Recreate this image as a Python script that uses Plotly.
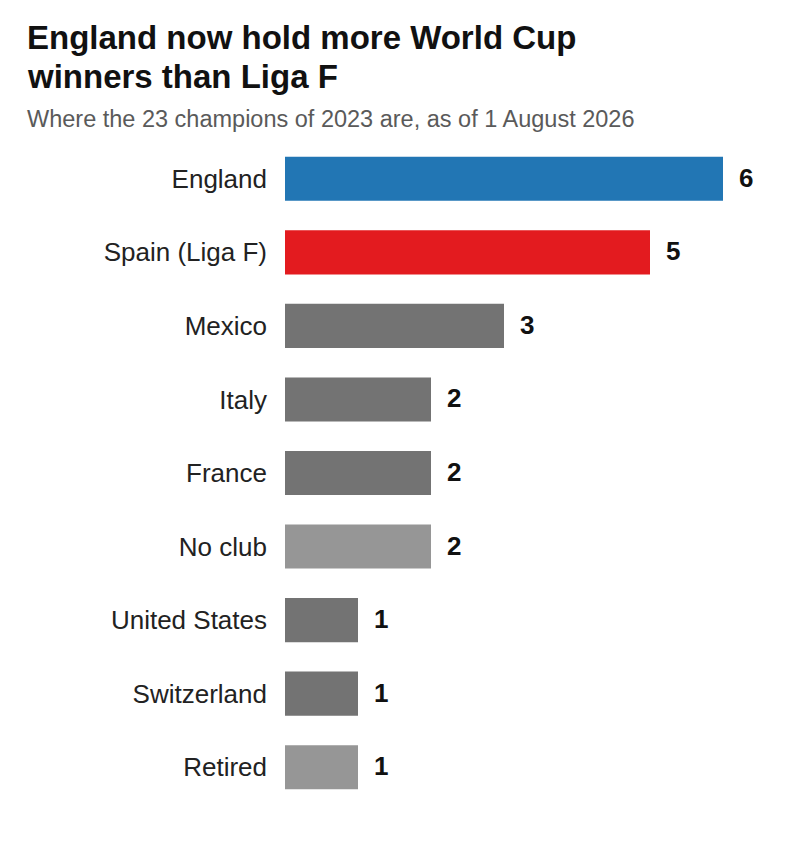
import plotly.graph_objects as go

categories = ["England", "Spain (Liga F)", "Mexico", "Italy", "France", "No club",
              "United States", "Switzerland", "Retired"]
values = [6, 5, 3, 2, 2, 2, 1, 1, 1]
colors = ["#2276b4", "#e31b1f", "#737373", "#737373", "#737373", "#969696",
          "#737373", "#737373", "#969696"]

title_lines = ["England now hold more World Cup", "winners than Liga F"]
subtitle_text = "Where the 23 champions of 2023 are, as of 1 August 2026"

FONT = "Liberation Sans, Arial, sans-serif"

# layout geometry (figure pixels)
L, T, PW, PH = 277, 134, 511, 662
W, H = 800, 841


def px(fx):
    return (fx - L) / PW


def py(fy):
    return (T + PH - fy) / PH


fig = go.Figure()
fig.add_trace(go.Bar(
    x=values, y=categories, orientation="h",
    marker=dict(color=colors, line=dict(width=0)),
    hoverinfo="skip",
))

for c, v in zip(categories, values):
    fig.add_annotation(x=v, y=c, text=f"<b>{v}</b>", showarrow=False,
                       xanchor="left", xshift=14, yshift=1,
                       font=dict(family=FONT, size=26, color="#111111"))

fig.update_layout(
    width=W, height=H,
    margin=dict(l=L, r=W - L - PW, t=T, b=H - T - PH),
    paper_bgcolor="white", plot_bgcolor="white",
    bargap=0.4,
    showlegend=False,
    xaxis=dict(range=[0, 7], visible=False, fixedrange=True),
    yaxis=dict(categoryorder="array", categoryarray=categories[::-1],
               showgrid=False, zeroline=False, showline=False, ticks="",
               ticklabelstandoff=17,
               tickfont=dict(family=FONT, size=26, color="#222222")),
    font=dict(family=FONT),
)

for line, cy in zip(title_lines, [30, 68]):
    fig.add_annotation(xref="paper", yref="paper", x=px(17), y=py(cy),
                       text=f"<b>{line}</b>", showarrow=False,
                       xanchor="left", yanchor="middle",
                       font=dict(family=FONT, size=33, color="#111111"))

fig.add_annotation(xref="paper", yref="paper", x=px(17), y=py(111),
                   text=subtitle_text, showarrow=False, xanchor="left", yanchor="middle",
                   font=dict(family=FONT, size=23.5, color="#5a5a5a"))

fig.write_html("out.html")
